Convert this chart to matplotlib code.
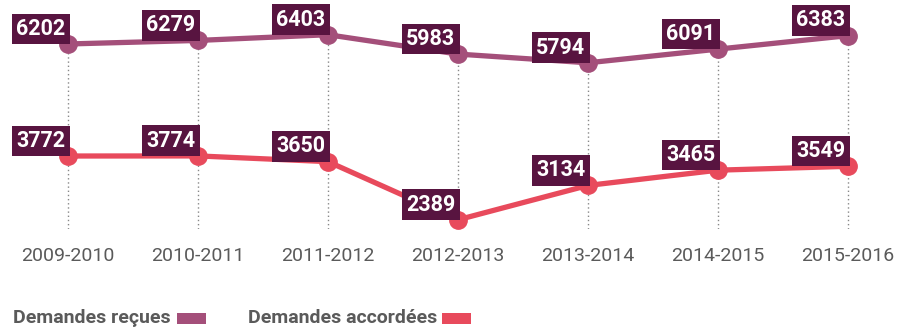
import matplotlib
matplotlib.use("Agg")
import matplotlib.pyplot as plt
from matplotlib.patches import Rectangle

years = ["2009-2010", "2010-2011", "2011-2012", "2012-2013",
         "2013-2014", "2014-2015", "2015-2016"]
recues = [6202, 6279, 6403, 5983, 5794, 6091, 6383]
accordees = [3772, 3774, 3650, 2389, 3134, 3465, 3549]

COL_RECUES = "#a44f7a"
COL_ACCORDEES = "#e84a5c"
COL_BOX = "#581440"
COL_TEXT = "#5a5a5a"
FONT = ["Roboto", "DejaVu Sans"]

W, H = 897, 327
fig = plt.figure(figsize=(W / 100, H / 100), dpi=100)
ax = fig.add_axes([0, (H - 229) / H, 1, 229 / H])
x = list(range(len(years)))

YMIN, YMAX = 2189, 7156
ax.set_xlim(-68 / 130, 6 + 49 / 130)
ax.set_ylim(YMIN, YMAX)

# dotted guides from each upper point down to the baseline
for xi, v in zip(x, recues):
    ax.plot([xi, xi], [YMIN, v], color="#888888", lw=1, ls=(0, (1, 2)), zorder=1)

for vals, col in [(recues, COL_RECUES), (accordees, COL_ACCORDEES)]:
    ax.plot(x, vals, color=col, lw=3.8, marker="o", ms=12.5, zorder=3,
            solid_capstyle="round")
    for xi, v in zip(x, vals):
        ax.annotate(str(v), (xi, v), xytext=(-2, 3), textcoords="offset points",
                    ha="right", va="bottom", color="white", fontsize=15.5,
                    fontweight="bold", family=FONT, zorder=5,
                    bbox=dict(boxstyle="square,pad=0.2", fc=COL_BOX, ec="none"))

ax.set_xticks(x)
ax.set_xticklabels(years, color=COL_TEXT, fontsize=14, family=FONT)
ax.tick_params(axis="x", length=0, pad=13)
ax.set_yticks([])
for s in ax.spines.values():
    s.set_visible(False)

# legend
fig.text(13 / W, 1 - 323 / H, "Demandes reçues", color=COL_TEXT,
         fontsize=14, fontweight="bold", family=FONT, va="baseline")
fig.patches.append(Rectangle((177 / W, 1 - 324 / H), 29 / W, 11 / H,
                             transform=fig.transFigure, fc=COL_RECUES, ec="none"))
fig.text(248 / W, 1 - 323 / H, "Demandes accordées", color=COL_TEXT,
         fontsize=14, fontweight="bold", family=FONT, va="baseline")
fig.patches.append(Rectangle((442 / W, 1 - 324 / H), 29 / W, 11 / H,
                             transform=fig.transFigure, fc=COL_ACCORDEES, ec="none"))

fig.savefig("out.png", dpi=100)
